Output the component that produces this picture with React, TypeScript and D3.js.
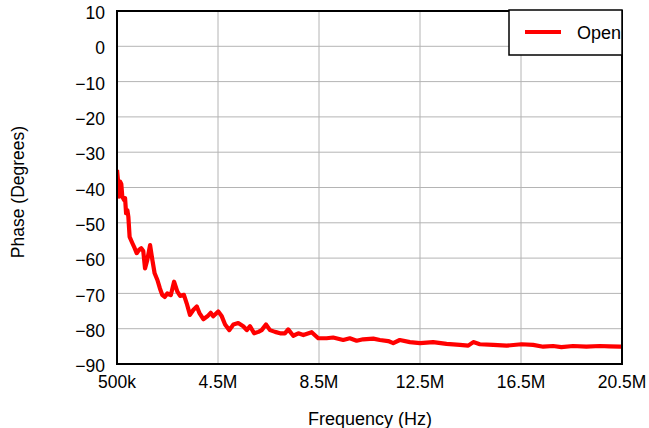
import React from "react";
import * as d3 from "d3";

const freqMHz = [
  0.5, 0.54, 0.58, 0.62, 0.67, 0.71, 0.78, 0.82, 0.86, 0.91,
  0.95, 1.0, 1.11, 1.2, 1.28, 1.37, 1.46, 1.54, 1.61, 1.7,
  1.81, 1.9, 1.99, 2.1, 2.2, 2.29, 2.39, 2.49, 2.63, 2.76,
  2.89, 3.0, 3.15, 3.26, 3.39, 3.52, 3.66, 3.76, 3.92, 4.08,
  4.21, 4.31, 4.51, 4.65, 4.78, 4.95, 5.11, 5.3, 5.5, 5.64,
  5.77, 5.93, 6.1, 6.23, 6.4, 6.56, 6.76, 6.96, 7.15, 7.28,
  7.48, 7.68, 7.88, 8.21, 8.47, 8.8, 9.06, 9.46, 9.72, 9.99,
  10.25, 10.65, 10.91, 11.24, 11.44, 11.7, 12.1, 12.5, 13.02, 13.55,
  14.08, 14.41, 14.61, 14.87, 15.4, 15.93, 16.52, 16.98, 17.38, 17.77,
  18.1, 18.56, 19.09, 19.62, 20.0, 20.41, 20.5,
];

const phaseOpen = [
  -35, -38, -42.6, -38.3, -39, -42.6, -43.5, -43, -47.3, -46.4,
  -48.3, -54, -55.8, -57.2, -58.6, -57.7, -57.2, -58, -62.9, -60.5,
  -56.3, -60.5, -64.3, -66.2, -68.6, -70.4, -71, -70, -70.5, -66.7,
  -69.5, -70.7, -70.4, -72.8, -76.1, -74.7, -73.7, -75.5, -77.3, -76.5,
  -75.5, -76.5, -75.1, -76.5, -78.8, -80.4, -78.8, -78.4, -79.3, -80.4,
  -79.3, -81.3, -80.9, -80.4, -78.8, -80.4, -80.9, -81.3, -81.3, -80.2,
  -82, -81.3, -81.8, -81, -82.7, -82.7, -82.5, -83.2, -82.7, -83.4,
  -83, -82.8, -83.2, -83.5, -84.1, -83.2, -83.8, -84.1, -83.8, -84.3,
  -84.6, -84.8, -83.8, -84.4, -84.6, -84.8, -84.4, -84.6, -85.1, -84.9,
  -85.2, -84.9, -85.1, -84.9, -85.0, -85.1, -85.1,
];

const xTicks = [0.5, 4.5, 8.5, 12.5, 16.5, 20.5];
const xTickLabels = ["500k", "4.5M", "8.5M", "12.5M", "16.5M", "20.5M"];
const yTicks = [10, 0, -10, -20, -30, -40, -50, -60, -70, -80, -90];
const seriesName = "Open";

export default function App() {
  const W = 649, H = 428;
  const L = 117, R = 622, T = 11, B = 364;
  const x = d3.scaleLinear().domain([0.5, 20.5]).range([L, R]);
  const y = d3.scaleLinear().domain([-90, 10]).range([B, T]);
  const pts = freqMHz.map((f, i) => [f, phaseOpen[i]] as [number, number]);
  const line = d3.line<[number, number]>().x(d => x(d[0])).y(d => y(d[1]));
  const font = "'Liberation Sans', Arial, sans-serif";
  const fmt = (v: number) => (v < 0 ? "\u2212" + Math.abs(v) : String(v));

  return (
    <svg width={W} height={H} style={{ position: "absolute", left: 0, top: 0 }} fontFamily={font}>
      <defs>
        <clipPath id="plot"><rect x={L} y={T} width={R - L} height={B - T} /></clipPath>
        <clipPath id="leg"><rect x={509} y={10} width={112} height={45} /></clipPath>
      </defs>
      <rect x={0} y={0} width={W} height={H} fill="#fff" />
      {xTicks.map((t, i) => (
        <line key={"gx" + i} x1={x(t)} x2={x(t)} y1={T} y2={B} stroke="#b4b4b4" strokeWidth={1} />
      ))}
      {yTicks.map((t, i) => (
        <line key={"gy" + i} x1={L} x2={R} y1={y(t)} y2={y(t)} stroke="#b4b4b4" strokeWidth={1} />
      ))}
      <path d={line(pts) || ""} fill="none" stroke="#ff0000" strokeWidth={4.2} strokeLinejoin="round" clipPath="url(#plot)" />
      <rect x={L} y={T} width={R - L} height={B - T} fill="none" stroke="#000" strokeWidth={2} />
      {yTicks.map((t, i) => (
        <text key={"ty" + i} x={105} y={y(t) + 2} dy="0.35em" textAnchor="end" fontSize={17.5} fill="#000">{fmt(t)}</text>
      ))}
      {xTicks.map((t, i) => (
        <text key={"tx" + i} x={x(t)} y={388} textAnchor="middle" fontSize={17.5} fill="#000">{xTickLabels[i]}</text>
      ))}
      <text x={370} y={425} textAnchor="middle" fontSize={18} fill="#000">Frequency (Hz)</text>
      <text transform={`translate(24,192) rotate(-90)`} textAnchor="middle" fontSize={17.5} fill="#000">Phase (Degrees)</text>
      <g>
        <rect x={509} y={10} width={113} height={45} fill="#fff" stroke="#000" strokeWidth={1.5} />
        <line x1={525} x2={561} y1={32} y2={32} stroke="#ff0000" strokeWidth={4} />
        <text x={577} y={39} fontSize={18} fill="#000" clipPath="url(#leg)">{seriesName}</text>
      </g>
    </svg>
  );
}
